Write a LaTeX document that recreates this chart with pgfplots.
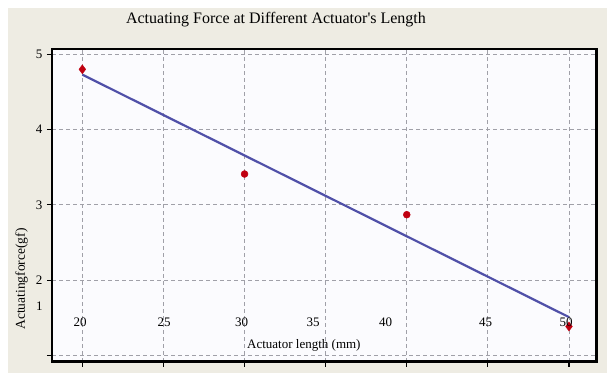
\documentclass[border=0pt]{standalone}
\usepackage{pgfplots}
\pgfplotsset{compat=1.18}
\usepackage{fontspec}
\setmainfont{Liberation Serif}[Ligatures=TeXOff]
\definecolor{bg}{HTML}{EEECE3}
\definecolor{plotbg}{HTML}{FBFBFE}
\definecolor{gridc}{HTML}{A0A0A8}
\definecolor{linec}{HTML}{5050A8}
\definecolor{ptc}{HTML}{C00010}
\begin{document}
\begin{tikzpicture}[x=1pt,y=1pt]
\fill[white] (0,0) rectangle (607,373);
\fill[bg] (8,0) rectangle (607,365);
\begin{axis}[at={(52pt,11.3pt)}, anchor=south west, scale only axis,
  width=544.7pt, height=312.7pt,
  xmin=18.13, xmax=51.71, ymin=0.918, ymax=5.07,
  axis background/.style={fill=plotbg},
  axis line style={line width=2.6pt, black},
  xtick={20,25,30,35,40,45,50}, ytick={1,2,3,4,5},
  xticklabels={}, yticklabels={,2,3,4,5},
  tick pos=left, tick align=outside, major tick length=5pt,
  every tick/.style={black, line width=1.2pt},
  grid=major, major grid style={gridc, dash pattern=on 4pt off 3pt, line width=0.8pt},
  yticklabel style={font=\fontsize{13}{13}\selectfont, xshift=-1pt},
  clip=false]
\addplot[color=linec, line width=2.2pt] coordinates {(20,4.73) (50,1.51)};
\addplot[only marks, mark=diamond*, mark size=4.5pt, color=ptc] coordinates {(20,4.80) (50,1.385)};
\addplot[only marks, mark=*, mark size=3.5pt, color=ptc] coordinates {(30,3.41) (40,2.87)};
\end{axis}
\begin{scope}[every node/.style={font=\fontsize{13}{13}\selectfont, inner sep=0pt}]
\node at (80,50.3) {20};
\node at (164,50.3) {25};
\node at (241.7,50.3) {30};
\node at (313,50.3) {35};
\node at (385.7,50.3) {40};
\node at (485.7,50.3) {45};
\node at (566,50.3) {50};
\node at (39.3,67) {1};
\node[anchor=west] at (247,28) {Actuator length (mm)};
\node[rotate=90, font=\fontsize{13.5}{14}\selectfont] at (21.7,94) {Actuatingforce(gf)};
\end{scope}
\node[font=\fontsize{16}{17}\selectfont, inner sep=0pt] at (276,353) {Actuating Force at Different Actuator's Length};
\end{tikzpicture}
\end{document}
